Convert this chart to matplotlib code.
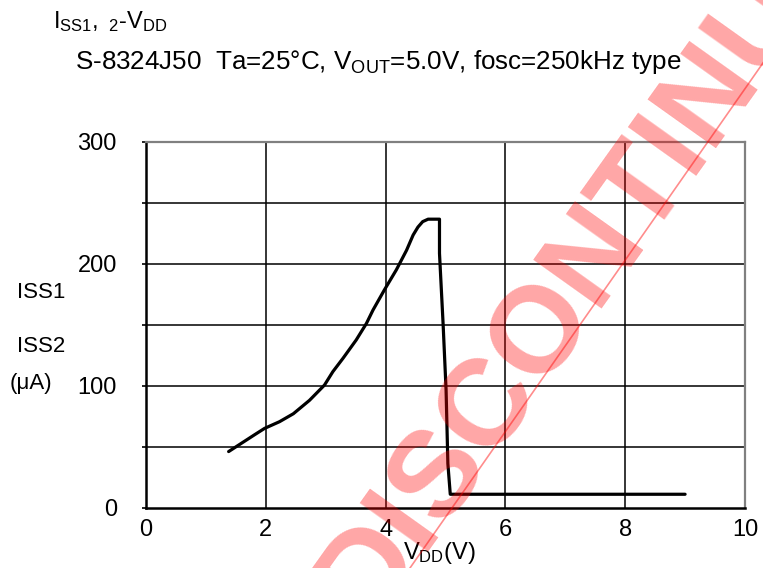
import numpy as np
import matplotlib.pyplot as plt
from matplotlib.lines import Line2D

plt.rcParams['font.family'] = ['Liberation Sans', 'DejaVu Sans']
plt.rcParams['mathtext.fontset'] = 'custom'
plt.rcParams['mathtext.rm'] = 'Liberation Sans'
plt.rcParams['mathtext.it'] = 'Liberation Sans'

# data
vdd = [1.38, 1.82, 1.98, 2.23, 2.46, 2.73, 2.98, 3.12, 3.29, 3.51, 3.68, 3.79,
       3.98, 4.18, 4.35, 4.46, 4.54, 4.62, 4.71, 4.90, 4.90, 4.96, 5.01, 5.04,
       5.08, 9.00]
iss = [46, 60, 65, 70.5, 77, 88, 100.5, 111.5, 122.5, 137.5, 151, 162,
       178.5, 195, 211, 223.5, 230, 234.5, 236.5, 236.5, 208.5, 151, 96.5, 36,
       11, 11]

x_ticks = [0, 2, 4, 6, 8, 10]
y_ticks = [0, 100, 200, 300]
y_grid = [50, 100, 150, 200, 250]
x_grid = [2, 4, 6, 8]

title1 = r'$\mathregular{I_{SS1},\ _{2}}$-$\mathregular{V_{DD}}$'
title2 = r'S-8324J50  Ta=25°C, $\mathregular{V_{OUT}}$=5.0V, fosc=250kHz type'
y_label_lines = ['ISS1', 'ISS2', '(μA)']
x_label = r'$\mathregular{V_{DD}}$(V)'
stamp = 'DISCONTINUED'

fig = plt.figure(figsize=(7.63, 5.68), dpi=100)
ax = fig.add_axes([0.1913, 0.1062, 0.7851, 0.6443])

ax.plot(vdd, iss, color='black', lw=2.3, solid_joinstyle='round',
        solid_capstyle='round', zorder=3)

for g in x_grid:
    ax.axvline(g, color='black', lw=1.1, zorder=1)
for g in y_grid:
    ax.axhline(g, color='black', lw=1.1, zorder=1)

ax.set_xlim(0, 10)
ax.set_ylim(0, 300)
ax.set_xticks(x_ticks)
ax.set_yticks(y_ticks)
ax.set_yticks(y_grid, minor=True)
ax.tick_params(axis='x', length=0, pad=8, labelsize=17)
ax.tick_params(axis='y', which='both', direction='out', length=3, width=1.2,
               pad=18, labelsize=17)

for side in ['top', 'right']:
    ax.spines[side].set_color('#808080')
    ax.spines[side].set_linewidth(1.6)
for side in ['left', 'bottom']:
    ax.spines[side].set_color('black')
    ax.spines[side].set_linewidth(1.8)

fig.text(53 / 763, 1 - 22 / 568, title1, fontsize=17, va='center', ha='left')
fig.text(75 / 763, 1 - 62 / 568, title2, fontsize=18.7, va='center', ha='left')
fig.text(17 / 763, 1 - 293 / 568, y_label_lines[0], fontsize=16, va='center')
fig.text(17 / 763, 1 - 347 / 568, y_label_lines[1], fontsize=16, va='center')
fig.text(10 / 763, 1 - 383 / 568, y_label_lines[2], fontsize=16, va='center')
fig.text(439 / 763, 1 - 553 / 568, x_label, fontsize=17, va='center', ha='center')

# watermark stamp
fig.text(614 / 763, 1 - 225 / 568, stamp, fontsize=88, fontweight='bold',
         color='red', alpha=0.35, rotation=54.5, rotation_mode='anchor',
         ha='center', va='center', zorder=10)
fig.add_artist(Line2D([410 / 763, 807 / 763], [0.0, 1.0],
                      color='red', alpha=0.45, lw=1.2, zorder=10))

fig.savefig('out.png', dpi=100)
